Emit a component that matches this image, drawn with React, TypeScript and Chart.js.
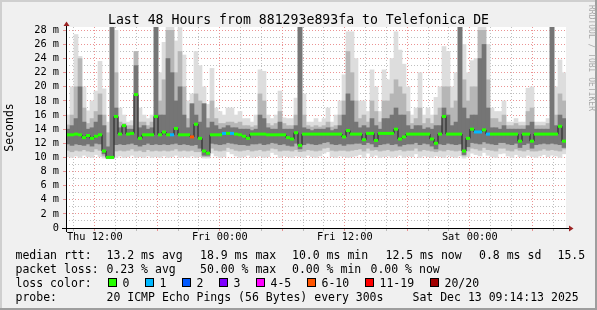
import { useEffect, useRef } from "react";
import { Chart, registerables } from "chart.js";

Chart.register(...registerables);

// ---------- texts ----------
const chartTitle = "Last 48 Hours from 881293e893fa to Telefonica DE";
const yAxisTitle = "Seconds";
const watermark = "RRDTOOL / TOBI OETIKER";

// ---------- time axis (hours counted from Thu 00:00) ----------
const startHour = 9 + 14 / 60 + 13 / 3600; // Thu 09:14:13
const spanHours = 48;
const xGridHours = [10, 12, 14, 16, 18, 20, 22, 24, 26, 28, 30, 32, 34, 36, 38, 40, 42, 44, 46, 48, 50, 52, 54, 56];
const xMajorHours = [12, 18, 24, 30, 36, 42, 48, 54];
const xLabelHours = [12, 24, 36, 48];
const xLabelTexts = ["Thu 12:00", "Fri 00:00", "Fri 12:00", "Sat 00:00"];

// ---------- value axis (ms) ----------
const yMaxMs = 28.47;
const yGridMs = [0, 1, 2, 3, 4, 5, 6, 7, 8, 9, 10, 11, 12, 13, 14, 15, 16, 17, 18, 19, 20, 21, 22, 23, 24, 25, 26, 27, 28];
const yLabelMs = [0, 2, 4, 6, 8, 10, 12, 14, 16, 18, 20, 22, 24, 26, 28];
const yLabelTexts = ["0", "2 m", "4 m", "6 m", "8 m", "10 m", "12 m", "14 m", "16 m", "18 m", "20 m", "22 m", "24 m", "26 m", "28 m"];

// ---------- data: 125 consecutive columns over the 48 hours (ms) ----------
const medianRtt = [
  13.2, 13.2, 13.3, 13.2, 12.8, 13.1, 12.7, 13.0, 13.2, 10.9,
  10.0, 10.0, 15.8, 13.3, 14.5, 13.3, 13.4, 18.9, 12.7, 13.2,
  13.2, 13.2, 15.8, 13.2, 13.6, 13.2, 13.2, 14.1, 13.2, 13.2,
  13.2, 12.9, 14.7, 12.7, 10.9, 10.6, 13.2, 13.2, 13.2, 13.4,
  13.4, 13.4, 13.3, 13.2, 13.0, 12.7, 13.3, 13.3, 13.3, 13.3,
  13.2, 13.2, 13.2, 13.2, 13.2, 12.8, 12.6, 13.5, 11.7, 13.3,
  13.3, 13.3, 13.3, 13.3, 13.3, 13.3, 13.3, 13.3, 13.3, 12.9,
  13.8, 13.3, 13.3, 13.3, 12.5, 13.4, 13.4, 12.4, 13.4, 13.4,
  13.4, 13.4, 14.0, 12.6, 12.9, 13.3, 13.3, 13.3, 13.3, 13.3,
  13.3, 12.6, 12.0, 13.3, 15.8, 13.3, 13.3, 13.3, 13.3, 10.9,
  12.7, 14.0, 13.6, 13.6, 13.9, 13.3, 13.3, 13.3, 13.3, 13.3,
  13.3, 13.3, 13.3, 12.3, 13.3, 13.3, 12.3, 13.3, 13.3, 13.3,
  13.3, 13.3, 13.3, 14.4, 12.3,
];

const lossCounts = [
  0, 0, 0, 0, 0, 0, 0, 0, 0, 0,
  0, 0, 0, 0, 0, 0, 0, 0, 0, 0,
  0, 0, 0, 0, 0, 0, 1, 0, 0, 0,
  0, 8, 0, 0, 0, 0, 0, 0, 0, 1,
  0, 1, 0, 0, 0, 0, 0, 0, 0, 0,
  0, 0, 0, 0, 0, 0, 0, 0, 0, 0,
  0, 0, 0, 0, 0, 0, 0, 0, 0, 0,
  0, 0, 0, 0, 0, 0, 0, 0, 0, 0,
  0, 0, 0, 0, 0, 0, 0, 0, 0, 0,
  0, 0, 0, 0, 0, 0, 0, 0, 0, 0,
  0, 0, 1, 1, 0, 1, 0, 0, 0, 0,
  0, 0, 0, 0, 0, 0, 0, 0, 0, 0,
  0, 0, 0, 0, 0,
];

// smoke: slowest ping per column
const pingMax = [
  16, 20, 27.4, 24.3, 20, 16.6, 18, 19.4, 23.6, 19.7,
  15, 29, 28, 17, 16, 15, 15.2, 25, 17, 16,
  15.5, 16, 29, 22, 26.3, 29, 29, 26.5, 28.4, 24.5,
  18, 19, 25, 23, 20, 17.5, 22.6, 17, 16.5, 16,
  17, 17, 16, 16.5, 15.5, 15.5, 15, 16, 22.4, 22.2,
  16, 15.5, 16, 19.4, 15.6, 15.5, 15.5, 18.4, 29, 19,
  15, 15, 15.5, 15, 15.5, 17, 15, 16, 18, 21.7,
  27.8, 27.8, 24, 18, 18, 16.5, 22.4, 20, 16.5, 22.4,
  21, 24, 27.8, 25.2, 23.2, 20, 16, 17, 22, 16,
  17, 16, 18.5, 20, 25.7, 25, 20, 22, 29, 26,
  22, 23.7, 24, 29, 29, 26, 17, 16.5, 16.5, 18,
  15, 15, 15.5, 15, 15, 19.8, 20, 15, 15, 15,
  15.5, 29, 20, 23.8, 22,
];
// smoke: upper edge of the medium-dense pings
const pingHighMid = [
  14.6, 16, 20, 24, 17, 14.8, 15.5, 16.5, 19, 16,
  13.5, 29, 22, 15, 14.8, 14.5, 14.5, 25, 15, 15,
  14.5, 15, 29, 18, 21, 28, 28, 22, 25, 20,
  15.5, 17.6, 19, 18, 17.6, 15.5, 18, 15.5, 14.8, 14.8,
  15, 15, 14.8, 15, 14.5, 14.5, 14.3, 14.5, 19, 18,
  14.8, 14.5, 14.8, 16.5, 14.8, 14.5, 14.5, 16, 29, 16,
  14.5, 14.3, 14.5, 14.3, 14.5, 15, 14.3, 14.5, 16, 18,
  25, 22, 18, 15.5, 16, 15, 18, 16.5, 15, 18,
  18, 19, 21, 20, 19, 16.5, 14.8, 15.5, 17, 14.8,
  15.5, 14.8, 16, 17, 20, 20, 17, 18, 29, 21,
  18, 20, 20, 28, 28, 21, 15.5, 15.5, 15, 16,
  14.5, 14.5, 14.8, 14.5, 14.5, 16.5, 17, 14.5, 14.5, 14.5,
  14.8, 29, 16, 19, 18,
];
// smoke: upper edge of the dense core
const pingHighCore = [
  14, 14.5, 15.5, 20, 15, 14, 14.2, 15, 16, 14.5,
  11.5, 29, 17, 14.2, 14.5, 14, 14, 23, 14.2, 14.5,
  14, 14.2, 29, 16, 16, 24, 22, 18, 20, 16,
  14.2, 17.6, 16, 15, 17.6, 14.2, 15, 14.5, 14, 14.2,
  14.5, 14.2, 14.2, 14, 14, 14, 13.8, 14, 16, 15.5,
  14.2, 14, 14, 15, 14, 14, 14, 14.5, 29, 14.2,
  14, 13.8, 14, 14, 14, 14.2, 13.8, 14, 14.5, 16,
  19, 18, 15, 14.2, 14.5, 14.2, 15.5, 14.5, 14, 15.5,
  15.5, 16, 17, 16, 16, 14.5, 14, 14.5, 14.5, 14,
  14.2, 14, 14.5, 14.5, 17, 16, 14.5, 15, 29, 17,
  15.5, 16, 16, 24, 26, 17, 14.2, 14.2, 14, 14.5,
  14, 14, 14, 14, 14, 14.5, 15, 14, 14, 14,
  14, 29, 14.5, 16, 15.5,
];
// smoke: lower edge of the dense core
const pingLowCore = [
  11.9, 11.7, 11.9, 11.8, 11.7, 11.9, 11.6, 12.0, 11.9, 10.5,
  9.9, 9.9, 11.8, 11.9, 11.8, 11.9, 12.0, 11.8, 11.6, 11.8,
  12.0, 11.8, 11.9, 11.8, 11.9, 11.8, 11.9, 12.0, 11.8, 11.9,
  11.8, 11.7, 11.8, 11.3, 10.3, 10.3, 12.0, 11.9, 11.8, 11.9,
  12.1, 12.0, 11.9, 11.8, 11.8, 11.7, 11.9, 11.9, 12.0, 11.8,
  11.9, 12.1, 12.0, 11.8, 11.9, 11.7, 11.6, 12.0, 11.2, 11.8,
  12.0, 11.9, 11.8, 11.9, 12.1, 12.2, 11.9, 11.8, 11.9, 11.7,
  11.9, 11.9, 12.0, 12.0, 11.8, 12.1, 11.9, 11.5, 11.8, 11.9,
  12.0, 11.8, 11.9, 11.6, 11.8, 11.9, 11.9, 12.1, 11.8, 12.0,
  11.9, 11.6, 11.2, 11.9, 11.8, 12.0, 11.9, 11.8, 11.9, 10.4,
  11.5, 12.1, 12.0, 11.9, 12.2, 12.0, 11.9, 11.8, 12.1, 12.1,
  11.9, 11.8, 12.0, 11.4, 11.8, 12.0, 11.3, 11.8, 11.9, 12.0,
  11.9, 12.0, 11.9, 11.8, 11.4,
];
// smoke: lower edge of the medium-dense pings
const pingLowMid = [
  11.0, 10.8, 11.0, 10.9, 11.1, 10.9, 10.8, 11.2, 11.0, 10.2,
  9.9, 9.9, 10.9, 11.0, 10.9, 11.0, 11.2, 10.9, 11.0, 10.8,
  11.1, 10.9, 11.0, 10.9, 11.0, 10.9, 11.0, 11.2, 10.9, 11.0,
  10.9, 11.0, 10.8, 10.8, 10.1, 10.1, 11.3, 11.0, 10.9, 11.0,
  11.4, 11.2, 11.0, 10.9, 11.0, 11.1, 10.9, 11.0, 11.1, 10.9,
  11.0, 11.3, 11.2, 10.9, 11.0, 11.0, 10.9, 11.1, 10.8, 10.9,
  11.1, 11.0, 10.9, 11.0, 11.3, 11.4, 11.0, 10.9, 11.0, 11.0,
  10.9, 11.0, 11.1, 11.2, 10.9, 11.3, 11.0, 11.1, 10.9, 11.0,
  11.1, 10.9, 11.0, 11.1, 10.9, 11.0, 11.0, 11.3, 10.9, 11.1,
  11.0, 10.9, 10.8, 11.0, 10.9, 11.1, 11.0, 10.9, 11.0, 10.2,
  10.9, 11.3, 11.2, 11.0, 11.4, 11.1, 11.0, 10.9, 11.3, 11.3,
  11.0, 10.9, 11.2, 11.0, 10.9, 11.1, 10.9, 10.9, 11.0, 11.2,
  11.0, 11.1, 11.0, 10.9, 11.2,
];
// smoke: fastest ping per column
const pingMin = [
  10.1, 10.0, 10.2, 10.0, 10.3, 10.1, 10.0, 10.4, 10.1, 9.9,
  9.8, 9.8, 10.0, 10.2, 10.0, 10.1, 10.3, 10.0, 10.1, 10.0,
  10.2, 10.0, 10.1, 10.0, 10.2, 10.0, 10.1, 10.3, 10.0, 10.1,
  10.0, 10.2, 10.0, 10.1, 9.9, 9.9, 10.6, 10.2, 10.0, 10.1,
  10.8, 10.5, 10.2, 10.0, 10.1, 10.3, 10.0, 10.1, 10.2, 10.0,
  10.1, 10.7, 10.4, 10.0, 10.2, 10.1, 10.0, 10.2, 10.1, 10.0,
  10.3, 10.1, 10.0, 10.2, 10.6, 10.8, 10.1, 10.0, 10.2, 10.1,
  10.0, 10.1, 10.2, 10.4, 10.0, 10.6, 10.1, 10.3, 10.0, 10.1,
  10.2, 10.0, 10.1, 10.3, 10.0, 10.2, 10.1, 10.5, 10.0, 10.2,
  10.1, 10.0, 10.2, 10.1, 10.0, 10.3, 10.1, 10.0, 10.2, 9.9,
  10.1, 10.6, 10.4, 10.2, 10.7, 10.3, 10.1, 10.0, 10.5, 10.6,
  10.2, 10.0, 10.4, 10.1, 10.0, 10.3, 10.1, 10.0, 10.2, 10.4,
  10.1, 10.3, 10.2, 10.0, 10.5,
];

// ---------- legend ----------
const statsRttTexts = ["median rtt:", "13.2 ms avg", "18.9 ms max", "10.0 ms min", "12.5 ms now", "0.8 ms sd", "15.5"];
const statsLossTexts = ["packet loss:", "0.23 % avg", "50.00 % max", "0.00 % min", "0.00 % now"];
const lossColorTitle = "loss color:";
const lossBucketMax = [0, 1, 2, 3, 5, 10, 19, 20];
const lossBucketLabels = ["0", "1", "2", "3", "4-5", "6-10", "11-19", "20/20"];
const lossBucketColors = ["#26ff00", "#00b8ff", "#0059ff", "#7e00ff", "#ff00ff", "#ff5500", "#ff0000", "#a10000"];
const probeTexts = ["probe:", "20 ICMP Echo Pings (56 Bytes) every 300s", "Sat Dec 13 09:14:13 2025"];

// ---------- styles ----------
const MONO = '"DejaVu Sans Mono", "Liberation Mono", monospace';
const MAJOR_GRID = "rgba(232, 128, 128, 0.85)";
const MINOR_GRID = "rgba(170, 170, 170, 0.75)";
const SMOKE_LIGHT = "#dddddd";
const SMOKE_MID = "#b6b6b6";
const SMOKE_CORE = "#757575";
const ARROW = "#9b2323";

function lossColor(n: number): string {
  for (let k = 0; k < lossBucketMax.length; k++) if (n <= lossBucketMax[k]) return lossBucketColors[k];
  return lossBucketColors[lossBucketColors.length - 1];
}

const decor = {
  id: "smokeDecor",
  beforeDraw(chart: any) {
    const { ctx, width, height, chartArea: a } = chart;
    ctx.save();
    ctx.fillStyle = "#f0f0f0";
    ctx.fillRect(0, 0, width, height);
    ctx.fillStyle = "#cfcfcf";
    ctx.fillRect(0, 0, width, 2);
    ctx.fillRect(0, 0, 2, height);
    ctx.fillStyle = "#9e9e9e";
    ctx.fillRect(0, height - 2, width, 2);
    ctx.fillRect(width - 2, 0, 2, height);
    ctx.fillStyle = "#ffffff";
    ctx.fillRect(a.left, a.top, a.right - a.left, a.bottom - a.top);
    ctx.restore();
  },
  afterDraw(chart: any) {
    const { ctx, chartArea: a, width } = chart;
    const xs = chart.scales.x;
    const ys = chart.scales.y;
    ctx.save();
    // tick stubs outside the plot
    ctx.lineWidth = 1;
    for (const h of xGridHours) {
      const px = Math.round(xs.getPixelForValue(h) - 0.5) + 0.5;
      ctx.strokeStyle = xMajorHours.includes(h) ? MAJOR_GRID : MINOR_GRID;
      ctx.beginPath();
      ctx.moveTo(px, a.bottom);
      ctx.lineTo(px, a.bottom + 3);
      ctx.stroke();
    }
    for (const v of yLabelMs) {
      const py = Math.round(ys.getPixelForValue(v) - 0.5) + 0.5;
      ctx.strokeStyle = MAJOR_GRID;
      ctx.beginPath();
      ctx.moveTo(a.left - 3, py);
      ctx.lineTo(a.left, py);
      ctx.stroke();
    }
    // axes
    ctx.strokeStyle = "#000000";
    ctx.beginPath();
    ctx.moveTo(a.left - 4, a.bottom + 0.5);
    ctx.lineTo(a.right + 3, a.bottom + 0.5);
    ctx.moveTo(a.left + 0.5, a.bottom + 4);
    ctx.lineTo(a.left + 0.5, a.top - 1);
    ctx.stroke();
    ctx.fillStyle = ARROW;
    ctx.beginPath();
    ctx.moveTo(a.right + 3, a.bottom + 0.5 - 3);
    ctx.lineTo(a.right + 7.5, a.bottom + 0.5);
    ctx.lineTo(a.right + 3, a.bottom + 0.5 + 3);
    ctx.closePath();
    ctx.fill();
    ctx.beginPath();
    ctx.moveTo(a.left + 0.5 - 3, a.top - 1);
    ctx.lineTo(a.left + 0.5, a.top - 5.5);
    ctx.lineTo(a.left + 0.5 + 3, a.top - 1);
    ctx.closePath();
    ctx.fill();

    // title
    ctx.fillStyle = "#000000";
    ctx.textBaseline = "alphabetic";
    ctx.textAlign = "center";
    ctx.font = `13.2px ${MONO}`;
    ctx.fillText(chartTitle, width / 2, 23.5);

    // y axis title
    ctx.save();
    ctx.translate(10.5, (a.top + a.bottom) / 2);
    ctx.rotate(-Math.PI / 2);
    ctx.textAlign = "center";
    ctx.textBaseline = "middle";
    ctx.font = `11.5px ${MONO}`;
    ctx.fillText(yAxisTitle, 0, 0);
    ctx.restore();

    // watermark
    ctx.save();
    ctx.translate(591.5, 5);
    ctx.rotate(Math.PI / 2);
    ctx.textAlign = "left";
    ctx.textBaseline = "middle";
    ctx.font = `8px ${MONO}`;
    ctx.fillStyle = "#a8a8a8";
    ctx.fillText(watermark, 0, 0);
    ctx.restore();

    // legend
    ctx.textAlign = "left";
    ctx.textBaseline = "alphabetic";
    ctx.font = `11.5px ${MONO}`;
    ctx.fillStyle = "#000000";
    const rttX = [15.5, 106.5, 200, 292, 385.5, 479, 557.5];
    statsRttTexts.forEach((t, i) => ctx.fillText(t, rttX[i], 259));
    const lossX = [15.5, 106.5, 200, 292, 370.5];
    statsLossTexts.forEach((t, i) => ctx.fillText(t, lossX[i], 273));
    ctx.fillText(lossColorTitle, 15.5, 287);
    const swX = [108, 145, 182, 219, 256, 307, 365, 430];
    lossBucketLabels.forEach((t, i) => {
      ctx.fillStyle = lossBucketColors[i];
      ctx.fillRect(swX[i], 278, 8, 8);
      ctx.strokeStyle = "#000000";
      ctx.strokeRect(swX[i] + 0.5, 278.5, 8, 8);
      ctx.fillStyle = "#000000";
      ctx.fillText(t, swX[i] + 14.5, 287);
    });
    const probeX = [15.5, 106.5, 412.5];
    probeTexts.forEach((t, i) => ctx.fillText(t, probeX[i], 301));
    ctx.restore();
  },
};

export default function App() {
  const ref = useRef<HTMLCanvasElement>(null);

  useEffect(() => {
    const canvas = ref.current;
    if (!canvas) return;
    const n = medianRtt.length;
    const colHour = medianRtt.map((_, i) => startHour + ((i + 0.5) * spanHours) / n);
    const band = (lo: number[], hi: number[]) => colHour.map((x, i) => ({ x, y: [lo[i], hi[i]] }));
    const barCommon = {
      type: "bar" as const,
      grouped: false,
      barPercentage: 1,
      categoryPercentage: 1,
      borderWidth: 0,
    };

    const chart = new Chart(canvas, {
      type: "bar",
      data: {
        datasets: [
          { ...barCommon, data: band(pingMin, pingMax), backgroundColor: SMOKE_LIGHT, order: 6 } as any,
          { ...barCommon, data: band(pingLowMid, pingHighMid), backgroundColor: SMOKE_MID, order: 5 } as any,
          { ...barCommon, data: band(pingLowCore, pingHighCore), backgroundColor: SMOKE_CORE, order: 4 } as any,
          {
            type: "line",
            data: colHour.map((x, i) => ({ x, y: medianRtt[i] })),
            borderColor: "#202020",
            borderWidth: 1,
            pointRadius: 0,
            stepped: "middle",
            fill: false,
            order: 2,
          } as any,
          {
            type: "line",
            data: colHour.map((x, i) => ({ x, y: medianRtt[i] })),
            showLine: false,
            pointStyle: "line",
            pointRadius: 2,
            pointBorderWidth: 3,
            pointBorderColor: lossCounts.map(lossColor),
            pointBackgroundColor: lossCounts.map(lossColor),
            order: 1,
          } as any,
        ],
      },
      options: {
        responsive: false,
        animation: false,
        devicePixelRatio: 1,
        events: [],
        layout: { padding: { top: 27, right: 31, bottom: 0, left: 0 } },
        plugins: {
          legend: { display: false },
          tooltip: { enabled: false },
          title: { display: false },
        },
        scales: {
          x: {
            type: "linear",
            min: startHour,
            max: startHour + spanHours,
            offset: false,
            z: 1,
            afterBuildTicks: (s: any) => {
              s.ticks = xGridHours.map((v) => ({ value: v }));
            },
            afterFit: (s: any) => {
              s.height = 310 - 228;
            },
            grid: {
              offset: false,
              drawTicks: false,
              lineWidth: 1,
              color: (c: any) => (c.tick && xMajorHours.includes(c.tick.value) ? MAJOR_GRID : MINOR_GRID),
            },
            border: { display: false, dash: [1, 2] },
            ticks: {
              autoSkip: false,
              maxRotation: 0,
              padding: 3,
              color: "#000000",
              font: { family: MONO, size: 10.3 },
              callback: (v: any) => {
                const k = xLabelHours.indexOf(Number(v));
                return k >= 0 ? xLabelTexts[k] : "";
              },
            },
          },
          y: {
            type: "linear",
            min: 0,
            max: yMaxMs,
            z: 1,
            afterBuildTicks: (s: any) => {
              s.ticks = yGridMs.map((v) => ({ value: v }));
            },
            afterFit: (s: any) => {
              s.width = 66;
            },
            grid: {
              drawTicks: false,
              lineWidth: 1,
              color: (c: any) => (c.tick && yLabelMs.includes(c.tick.value) ? MAJOR_GRID : MINOR_GRID),
            },
            border: { display: false, dash: [1, 2] },
            ticks: {
              autoSkip: false,
              padding: 7,
              color: "#000000",
              font: { family: MONO, size: 10.3 },
              callback: (v: any) => {
                const k = yLabelMs.indexOf(Number(v));
                return k >= 0 ? yLabelTexts[k] : "";
              },
            },
          },
        },
      } as any,
      plugins: [decor],
    });
    return () => chart.destroy();
  }, []);

  return (
    <div style={{ position: "absolute", left: 0, top: 0, width: 597, height: 310 }}>
      <canvas ref={ref} width={597} height={310} style={{ display: "block", width: 597, height: 310 }} />
    </div>
  );
}
